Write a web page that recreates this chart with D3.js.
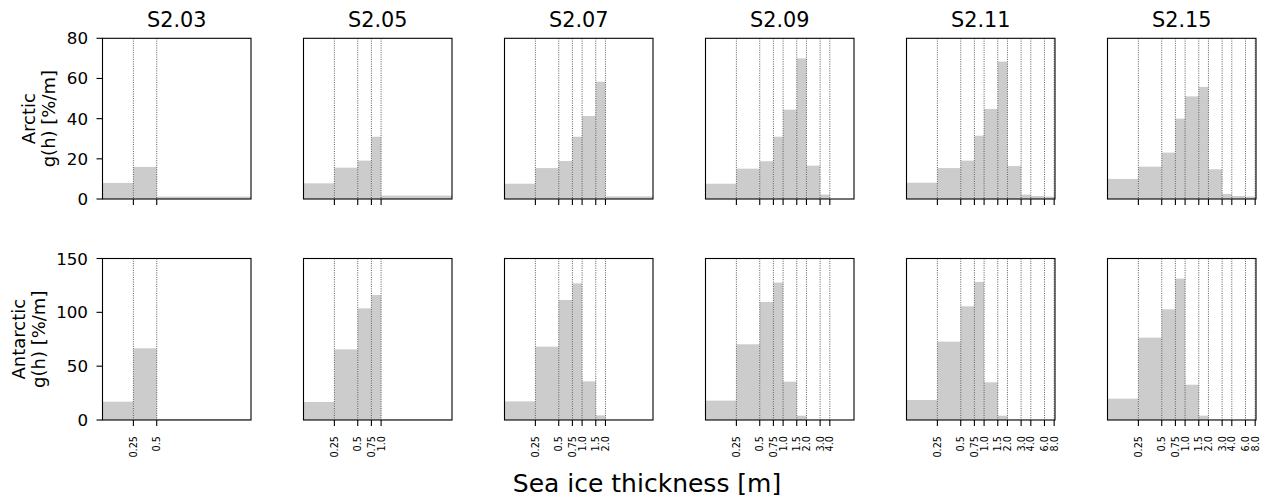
<!DOCTYPE html>
<html>
<head>
<meta charset="utf-8">
<script src="https://cdn.jsdelivr.net/npm/d3@7"></script>
<style>
  html, body { margin: 0; padding: 0; background: #fff; }
  svg { display: block; font-family: "DejaVu Sans", sans-serif; }
</style>
</head>
<body>
<svg id="chart" width="1263" height="500"></svg>
<script>
// ---- data ----
const columns = ["S2.03", "S2.05", "S2.07", "S2.09", "S2.11", "S2.15"];
const rowNames = ["Arctic", "Antarctic"];
const thicknessLabels = ["0.25", "0.5", "0.75", "1.0", "1.5", "2.0", "3.0", "4.0", "6.0", "8.0"];
const ticksPerColumn = [2, 4, 6, 8, 10, 10];
const arcticValues = [
  [8.0, 16.0, 1.2],
  [7.8, 15.6, 19.1, 31.0, 1.7],
  [7.6, 15.4, 18.9, 31.0, 41.3, 58.4, 1.3],
  [7.6, 15.1, 18.8, 31.0, 44.5, 70.0, 16.6, 2.2, 0],
  [8.1, 15.4, 19.1, 31.5, 44.8, 68.4, 16.4, 2.2, 1.5, 1.2, 0],
  [10.0, 16.1, 23.1, 40.0, 51.1, 55.8, 14.8, 2.5, 1.5, 1.2, 0]
];
const antarcticValues = [
  [17.0, 66.6, 1.0],
  [16.7, 65.6, 103.7, 116.1, 0.6],
  [17.3, 68.1, 111.5, 126.9, 35.9, 4.3, 0.3],
  [18.0, 70.3, 109.6, 127.6, 35.6, 4.0, 0.3, 0.2, 0],
  [18.6, 72.8, 105.6, 128.2, 35.0, 4.0, 0.3, 0.2, 0, 0, 0],
  [19.8, 76.5, 102.8, 131.3, 32.8, 4.0, 0.3, 0.2, 0, 0, 0]
];
const arcticYTicks = [0, 20, 40, 60, 80];
const antarcticYTicks = [0, 50, 100, 150];
const xLabel = "Sea ice thickness [m]";
const yLabelUnit = "g(h) [%/m]";

// ---- layout ----
const svg = d3.select("#chart");
const panelW = 148.5;
const colStride = 201;
const firstLeft = 102.5;
const rows = [
  { top: 38.3, bottom: 199, max: 80, ticks: arcticYTicks, values: arcticValues, name: rowNames[0], labelX: [35, 54.5] },
  { top: 258.5, bottom: 420, max: 150, ticks: antarcticYTicks, values: antarcticValues, name: rowNames[1], labelX: [25, 44.5] }
];
const barColor = "#cccccc";
const x = d3.scaleLog().domain([0.1, 8.2]).range([0, panelW]).clamp(true);

rows.forEach((row, r) => {
  const y = d3.scaleLinear().domain([0, row.max]).range([row.bottom, row.top]);
  columns.forEach((col, c) => {
    const left = firstLeft + c * colStride;
    const g = svg.append("g").attr("transform", `translate(${left},0)`);
    const tickVals = thicknessLabels.slice(0, ticksPerColumn[c]).map(Number);
    const tickLabs = thicknessLabels.slice(0, ticksPerColumn[c]);
    const edges = [0].concat(tickVals).concat([Infinity]);
    const vals = row.values[c];
    const bins = vals.map((v, i) => ({ lo: edges[i], hi: edges[i + 1], v }));

    // bars
    g.selectAll("rect.bar").data(bins).enter().append("rect")
      .attr("class", "bar")
      .attr("x", d => x(Math.max(d.lo, 0.1)))
      .attr("width", d => Math.max(0, x(Math.min(d.hi, 8.2)) - x(Math.max(d.lo, 0.1))))
      .attr("y", d => y(d.v))
      .attr("height", d => y(0) - y(d.v))
      .attr("fill", barColor);

    // dotted grid
    g.selectAll("line.grid").data(tickVals).enter().append("line")
      .attr("x1", d => x(d)).attr("x2", d => x(d))
      .attr("y1", row.top).attr("y2", row.bottom)
      .attr("stroke", "#333").attr("stroke-width", 0.8)
      .attr("stroke-dasharray", "1,1.3");

    // x ticks
    g.selectAll("line.xt").data(tickVals).enter().append("line")
      .attr("x1", d => x(d)).attr("x2", d => x(d))
      .attr("y1", row.bottom).attr("y2", row.bottom + 6)
      .attr("stroke", "#000").attr("stroke-width", 1.1);
    if (r === 1) {
      g.selectAll("text.xl").data(tickVals).enter().append("text")
        .attr("transform", (d) => `translate(${x(d)},${row.bottom + 16}) rotate(-90)`)
        .attr("text-anchor", "end")
        .attr("dy", "0.35em")
        .attr("font-size", "9.7px")
        .attr("fill", "#000")
        .text((d, i) => tickLabs[i]);
    }

    // frame
    g.append("rect")
      .attr("x", 0).attr("y", row.top)
      .attr("width", panelW).attr("height", row.bottom - row.top)
      .attr("fill", "none").attr("stroke", "#000").attr("stroke-width", 1.1);

    // y axis on first column
    if (c === 0) {
      g.selectAll("line.yt").data(row.ticks).enter().append("line")
        .attr("x1", -6).attr("x2", 0)
        .attr("y1", d => y(d)).attr("y2", d => y(d))
        .attr("stroke", "#000").attr("stroke-width", 1.1);
      g.selectAll("text.yl").data(row.ticks).enter().append("text")
        .attr("x", -14.5).attr("y", d => y(d))
        .attr("dy", "0.36em")
        .attr("text-anchor", "end")
        .attr("font-size", "16.7px")
        .attr("fill", "#000")
        .text(d => d);
    }

    // column titles
    if (r === 0) {
      svg.append("text")
        .attr("x", left + panelW / 2).attr("y", 27)
        .attr("text-anchor", "middle")
        .attr("font-size", "20.8px")
        .attr("fill", "#000")
        .text(col);
    }
  });

  // row y label (two lines)
  const cy = (row.top + row.bottom) / 2;
  [row.name, yLabelUnit].forEach((t, k) => {
    svg.append("text")
      .attr("transform", `translate(${row.labelX[k]},${cy}) rotate(-90)`)
      .attr("text-anchor", "middle")
      .attr("font-size", "18px")
      .attr("fill", "#000")
      .text(t);
  });
});

// x label
svg.append("text")
  .attr("x", 647).attr("y", 492)
  .attr("text-anchor", "middle")
  .attr("font-size", "25px")
  .attr("fill", "#000")
  .text(xLabel);
</script>
</body>
</html>
